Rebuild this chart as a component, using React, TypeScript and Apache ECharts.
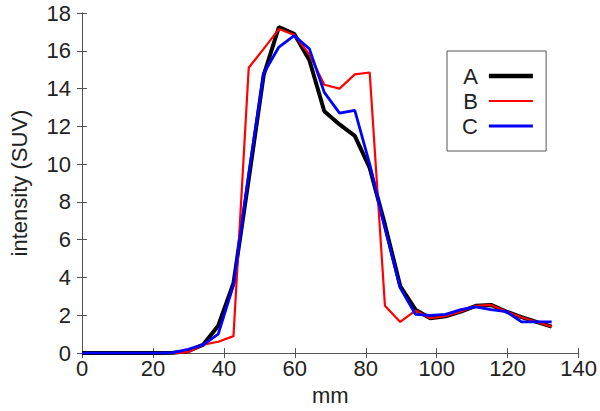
import React, { useEffect, useRef } from "react";
import * as echarts from "echarts";

const positionsMm = [0, 4.3, 8.5, 12.8, 17.1, 21.4, 25.6, 29.9, 34.2, 38.4, 42.7, 47.0, 51.2, 55.5, 59.8, 64.1, 68.3, 72.6, 76.9, 81.1, 85.4, 89.7, 94.0, 98.2, 102.5, 106.8, 111.0, 115.3, 119.6, 123.9, 128.1, 132.4];

const seriesA = [0, 0, 0, 0, 0, 0, 0.02, 0.1, 0.45, 1.45, 3.7, 9.2, 14.7, 17.25, 16.9, 15.5, 12.8, 12.1, 11.5, 9.8, 6.8, 3.55, 2.3, 1.85, 1.95, 2.2, 2.5, 2.55, 2.2, 1.9, 1.65, 1.4];
const seriesB = [0, 0, 0, 0, 0, 0, 0.0, 0.05, 0.45, 0.6, 0.9, 15.1, 16.1, 17.15, 16.85, 15.8, 14.2, 14.0, 14.75, 14.85, 2.5, 1.65, 2.25, 1.85, 1.95, 2.2, 2.5, 2.55, 2.2, 1.9, 1.65, 1.4];
const seriesC = [0, 0, 0, 0, 0, 0, 0.03, 0.2, 0.45, 1.0, 3.6, 9.5, 14.8, 16.2, 16.8, 16.1, 13.8, 12.7, 12.85, 10.0, 6.6, 3.45, 2.05, 2.0, 2.05, 2.3, 2.45, 2.3, 2.2, 1.65, 1.65, 1.65];

const xTicks = { min: 0, max: 140, interval: 20 };
const yTicks = { min: 0, max: 18, interval: 2 };

const FONT = "Liberation Sans";

export default function App() {
  const ref = useRef<HTMLDivElement>(null);
  useEffect(() => {
    if (!ref.current) return;
    const chart = echarts.init(ref.current, undefined, { renderer: "svg" });
    const pair = (ys: number[]) => positionsMm.map((x, i) => [x, ys[i]]);
    const axisLine = { show: true, lineStyle: { color: "#555", width: 1 } };
    const axisTick = { show: true, inside: true, length: 5, lineStyle: { color: "#555" } };
    const label = { color: "#222", fontSize: 22, fontFamily: FONT };
    chart.setOption({
      animation: false,
      backgroundColor: "#fff",
      grid: { left: 77, right: 21, top: 13, bottom: 49, containLabel: false },
      legend: {
        orient: "vertical",
        left: 447,
        top: 51,
        align: "right",
        itemWidth: 44,
        itemHeight: 14,
        itemGap: 3,
        padding: [14, 11, 14, 15],
        borderColor: "#555",
        borderWidth: 1,
        backgroundColor: "#fff",
        itemStyle: { opacity: 0 },
        textStyle: { color: "#222", fontSize: 22, fontFamily: FONT, lineHeight: 22, padding: [0, 6, 0, 0] },
        data: [
          { name: "A", lineStyle: { width: 4.5, color: "#000" } },
          { name: "B", lineStyle: { width: 2.2, color: "#ff0000" } },
          { name: "C", lineStyle: { width: 3, color: "#0000ff" } },
        ],
      },
      xAxis: [
        {
          type: "value",
          ...xTicks,
          name: "mm",
          nameLocation: "middle",
          nameGap: 30,
          nameTextStyle: { color: "#222", fontSize: 22, fontFamily: FONT },
          axisLine,
          axisTick,
          axisLabel: { ...label, margin: 4 },
          splitLine: { show: false },
        },
        {
          type: "value",
          position: "top",
          ...xTicks,
          axisLine,
          axisTick,
          axisLabel: { show: false },
          splitLine: { show: false },
        },
      ],
      yAxis: [
        {
          type: "value",
          ...yTicks,
          name: "intensity (SUV)",
          nameLocation: "middle",
          nameGap: 52,
          nameTextStyle: { color: "#222", fontSize: 22, fontFamily: FONT },
          axisLine,
          axisTick,
          axisLabel: { ...label, margin: 11 },
          splitLine: { show: false },
        },
        {
          type: "value",
          position: "right",
          ...yTicks,
          axisLine,
          axisTick,
          axisLabel: { show: false },
          splitLine: { show: false },
        },
      ],
      series: [
        {
          name: "A",
          type: "line",
          data: pair(seriesA),
          symbol: "none",
          color: "#000",
          lineStyle: { color: "#000", width: 4 },
          z: 3,
        },
        {
          name: "B",
          type: "line",
          data: pair(seriesB),
          symbol: "none",
          color: "#ff0000",
          lineStyle: { color: "#ff0000", width: 2.2 },
          z: 4,
        },
        {
          name: "C",
          type: "line",
          data: pair(seriesC),
          symbol: "none",
          color: "#0000ff",
          lineStyle: { color: "#0000ff", width: 2.8 },
          z: 5,
        },
      ],
    });
    return () => chart.dispose();
  }, []);
  return <div ref={ref} style={{ width: 600, height: 411, position: "fixed", left: 0, top: 0 }} />;
}
